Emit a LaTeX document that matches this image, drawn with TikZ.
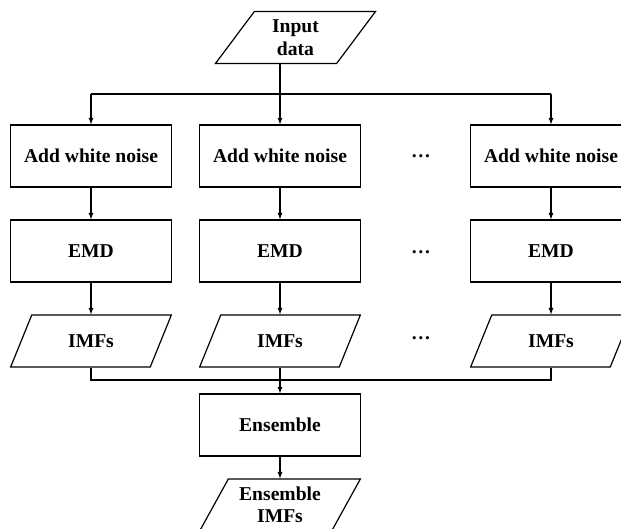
\documentclass[tikz,border=0pt]{standalone}
\usepackage{fontspec}
\setmainfont{Liberation Serif}
\usetikzlibrary{shapes.geometric}
\begin{document}
\begin{tikzpicture}[x=1pt,y=-1pt,line width=1.2pt,
font=\fontsize{19.6}{22.5}\selectfont\bfseries,
box/.style={draw,minimum width=161pt,minimum height=62pt,inner sep=0pt},
io/.style={draw,trapezium,trapezium left angle=58,trapezium right angle=122,
trapezium stretches=true,minimum width=161pt,minimum height=52pt,inner sep=0pt,align=center},
arr/.style={-latex}]
\clip (0,0) rectangle (621,529);
\node[io] (input) at (295.5,37.5) {Input\\data};
\coordinate (split) at (280,94);
\coordinate (merge) at (280,380);
\foreach \N/\X in {1/91,2/280,3/551}
{\node[box] (add\N) at (\X,156) {Add white noise};
\node[box] (emd\N) at (\X,251) {EMD};
\node[io] (imf\N) at (\X,341) {IMFs};
\draw[arr] (add\N) -- (emd\N);
\draw[arr] (emd\N) -- (imf\N);}
\foreach \Y [count=\N] in {156,252,338}
{\node (dots\N) at (421,\Y) {…};}
\draw[arr] (input.south -| split) -- (add2);
\draw (add1 |- split) -- (add3 |- split);
\draw[arr] (add1 |- split) -- (add1);
\draw[arr] (add3 |- split) -- (add3);
\node[box] (ens) at (280,425) {Ensemble};
\node[io] (ensimf) at (280,505) {Ensemble\\IMFs};
\draw (imf1.south) |- (merge) -| (imf3.south);
\draw (imf2) -- (merge);
\draw[arr] (merge) -- (ens);
\draw[arr] (ens) -- (ensimf);
\end{tikzpicture}
\end{document}
